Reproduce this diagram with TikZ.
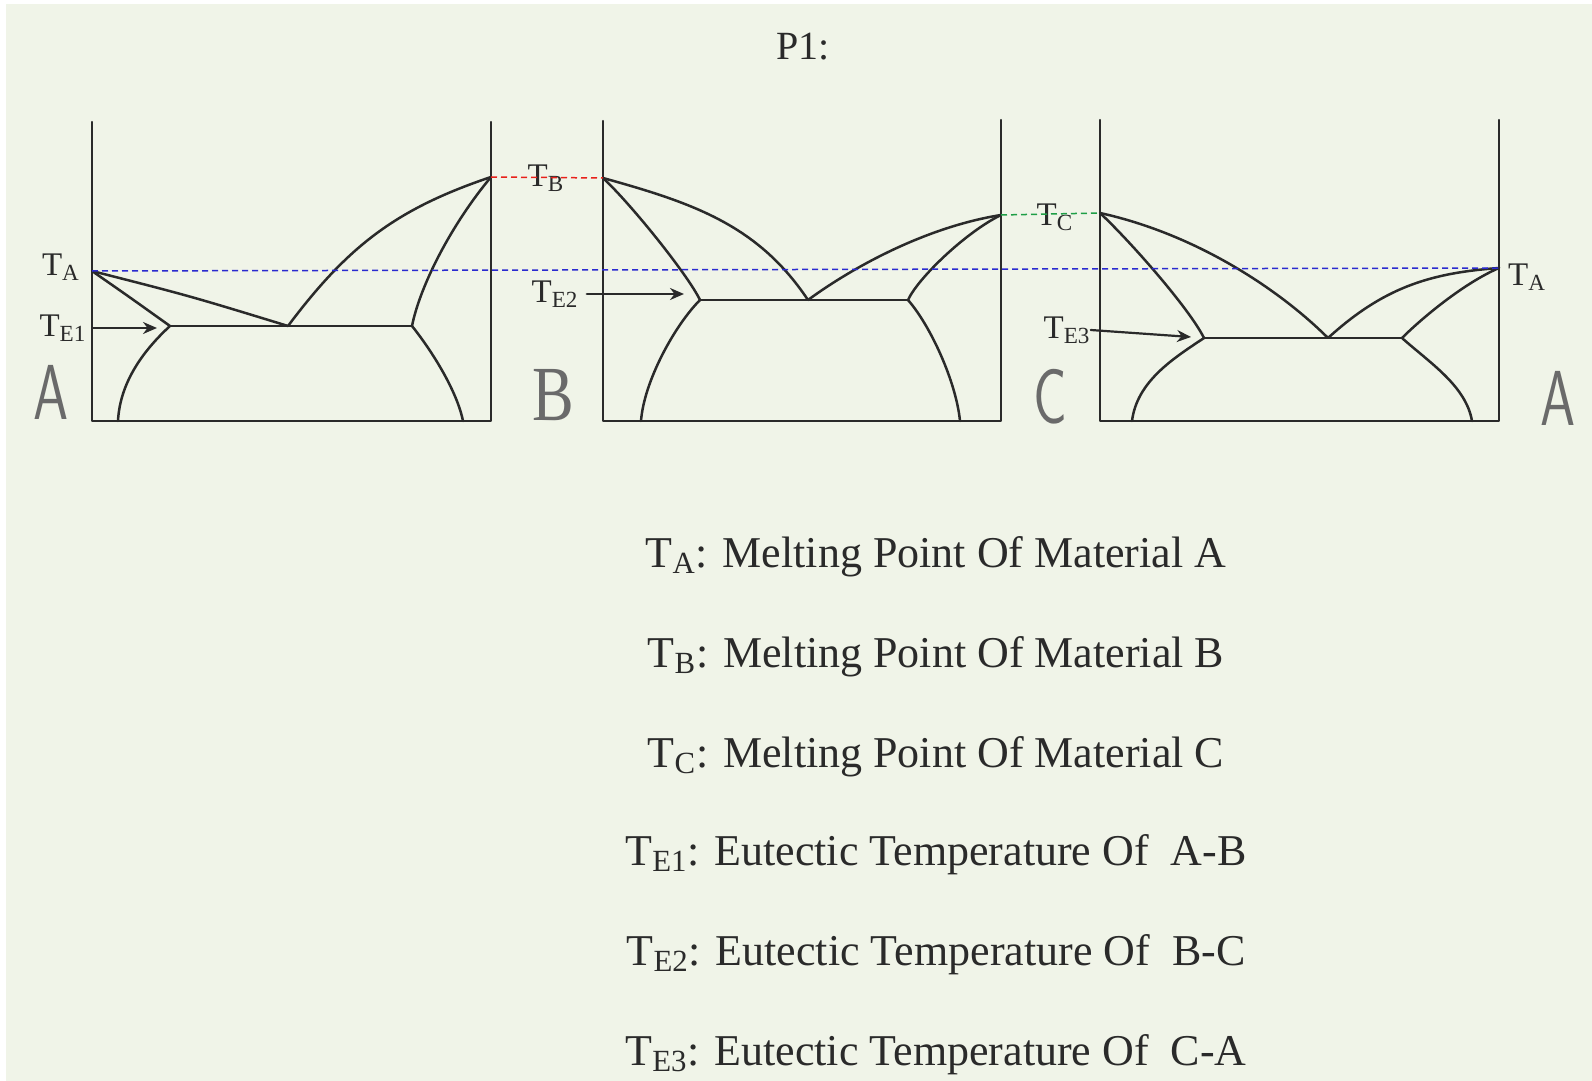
\documentclass[tikz,border=0pt]{standalone}
\usepackage{fontspec}
\setmainfont{Liberation Serif}
\usepackage{graphicx}
\usepackage{tikz}
\usetikzlibrary{arrows.meta}
\definecolor{pdPaper}{HTML}{F0F4E8}
\definecolor{pdInk}{HTML}{2A2A2A}
\definecolor{pdBlue}{HTML}{2A2ACF}
\definecolor{pdRed}{HTML}{E8201A}
\definecolor{pdGreen}{HTML}{1E9E46}
\tikzset{
  pd diagram/.style={x=0.5pt, y=-0.5pt, text=pdInk,
    line cap=round, line join=round},
  pd axis/.style={draw=pdInk, line width=1.1pt},
  pd curve/.style={draw=pdInk, line width=1.25pt},
  pd arrow/.style={-{Stealth[length=7pt,width=6pt]}, draw=pdInk, line width=1.1pt},
  pd level/.style={dash pattern=on 3pt off 2pt, line width=0.75pt, line cap=butt},
  pd temp/.style={font=\fontsize{16.5}{18}\selectfont, inner sep=0pt},
  pd phase/.style={font=\fontsize{39}{40}\selectfont\sffamily, text=pdInk!70, inner sep=0pt},
  pd legend/.style={font=\fontsize{22}{26}\selectfont, inner sep=0pt, anchor=base}
}
\begin{document}
\begin{tikzpicture}[pd diagram]
\fill[white] (0,0) rectangle (1592,1081);
\fill[pdPaper] (6,4) rectangle (1592,1081);
\useasboundingbox (0,0) rectangle (1592,1081);
\node[font=\fontsize{20}{22}\selectfont, inner sep=0pt, anchor=base] (title) at (803,60) {P1:};
% A-B
\coordinate (a1) at (92,271);
\coordinate (b1) at (491,177);
\coordinate (e1) at (288,326);
\coordinate (e1l) at (170,326);
\coordinate (e1r) at (412,326);
\coordinate (tip1) at (157,328);
\draw[pd axis] (92,122) -- (92,421) -- (491,421) -- (491,122);
\draw[pd curve] (a1) .. controls (190,296) .. (e1);
\draw[pd curve] (a1) .. controls (128,296) .. (e1l);
\draw[pd curve] (b1) .. controls (396,209) and (348,246) .. (e1);
\draw[pd curve] (b1) .. controls (451,225) and (420,286) .. (e1r);
\draw[pd curve] (e1l) -- (e1r);
\draw[pd curve] (e1l) .. controls (145,349) and (120,381) .. (118,421);
\draw[pd curve] (e1r) .. controls (432,351) and (457,391) .. (463,421);
\node[pd temp] (ta1) at (61,267) {T\textsubscript{A}};
\node[pd temp] (te1) at (63,328) {T\textsubscript{E1}};
\node[pd phase] (matA1) at (51,392) {\scalebox{0.72}[1]{A}};
\draw[pd arrow] (te1.east) ++(6,0) -- (tip1);
% B-C
\coordinate (b2) at (603,178);
\coordinate (c2) at (1001,215);
\coordinate (e2) at (808,300);
\coordinate (e2l) at (700,300);
\coordinate (e2r) at (908,300);
\coordinate (tip2) at (684,294);
\draw[pd axis] (603,121) -- (603,421) -- (1001,421) -- (1001,120);
\draw[pd curve] (b2) .. controls (631,204) and (688,275) .. (e2l);
\draw[pd curve] (b2) .. controls (693,203) and (758,225) .. (e2);
\draw[pd curve] (c2) .. controls (926,227) and (853,267) .. (e2);
\draw[pd curve] (c2) .. controls (966,232) and (918,278) .. (e2r);
\draw[pd curve] (e2l) -- (e2r);
\draw[pd curve] (e2l) .. controls (675,325) and (644,381) .. (641,421);
\draw[pd curve] (e2r) .. controls (930,325) and (956,381) .. (960,421);
\node[pd temp] (tb2) at (546,178) {T\textsubscript{B}};
\node[pd temp] (te2) at (555,294) {T\textsubscript{E2}};
\node[pd phase, font=\fontsize{39}{40}\selectfont\rmfamily] (matB) at (553,395) {\scalebox{0.8}[1]{B}};
\draw[pd arrow] (te2.east) ++(8,0) -- (tip2);
% C-A
\coordinate (c3) at (1100,213);
\coordinate (a3) at (1499,268);
\coordinate (e3) at (1328,338);
\coordinate (e3l) at (1204,338);
\coordinate (e3r) at (1402,338);
\coordinate (tip3) at (1191,337);
\draw[pd axis] (1100,120) -- (1100,421) -- (1499,421) -- (1499,120);
\draw[pd curve] (c3) .. controls (1130,241) and (1189,308) .. (e3l);
\draw[pd curve] (c3) .. controls (1200,235) and (1283,293) .. (e3);
\draw[pd curve] (a3) .. controls (1429,273) and (1383,288) .. (e3);
\draw[pd curve] (a3) .. controls (1464,283) and (1422,318) .. (e3r);
\draw[pd curve] (e3l) -- (e3r);
\draw[pd curve] (e3l) .. controls (1174,358) and (1137,381) .. (1132,421);
\draw[pd curve] (e3r) .. controls (1430,363) and (1466,386) .. (1472,421);
\node[pd temp] (tc3) at (1055,217) {T\textsubscript{C}};
\node[pd temp] (te3) at (1067,330) {T\textsubscript{E3}};
\node[pd temp] (ta3) at (1527,277) {T\textsubscript{A}};
\node[pd phase] (matC) at (1050,397) {\scalebox{0.72}[1]{C}};
\node[pd phase] (matA3) at (1558,398) {\scalebox{0.72}[1]{A}};
\draw[pd arrow] (te3.east) -- (tip3);
% levels
\draw[pd level, draw=pdRed] (b1) -- (b2);
\draw[pd level, draw=pdGreen] (c2) -- (c3);
\draw[pd level, draw=pdBlue] (a1) -- (a3);
% legend
\node[pd legend] (legA) at (936,567) {T\textsubscript{A}: Melting Point Of Material A};
\node[pd legend] (legB) at (936,667) {T\textsubscript{B}: Melting Point Of Material B};
\node[pd legend] (legC) at (936,767) {T\textsubscript{C}: Melting Point Of Material C};
\node[pd legend] (legE1) at (936,865) {T\textsubscript{E1}: Eutectic Temperature Of~ A-B};
\node[pd legend] (legE2) at (936,965) {T\textsubscript{E2}: Eutectic Temperature Of~ B-C};
\node[pd legend] (legE3) at (936,1065) {T\textsubscript{E3}: Eutectic Temperature Of~ C-A};
\end{tikzpicture}
\end{document}
